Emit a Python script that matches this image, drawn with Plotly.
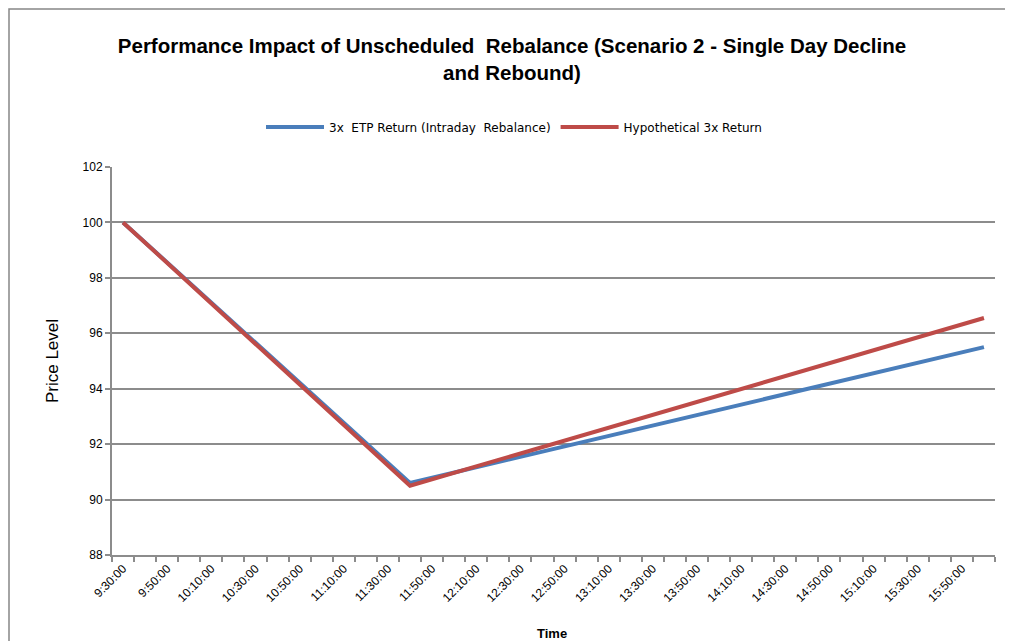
import plotly.graph_objects as go

# ---- data ----
day = "2024-01-02 "
etp_times = ["09:30:00", "11:40:00", "16:00:00"]
etp_values = [100.0, 90.6, 95.5]
hypo_times = ["09:30:00", "11:40:00", "16:00:00"]
hypo_values = [100.0, 90.5, 96.55]

tick_times = ["09:30:00", "09:50:00", "10:10:00", "10:30:00", "10:50:00", "11:10:00",
              "11:30:00", "11:50:00", "12:10:00", "12:30:00", "12:50:00", "13:10:00",
              "13:30:00", "13:50:00", "14:10:00", "14:30:00", "14:50:00", "15:10:00",
              "15:30:00", "15:50:00"]
tick_labels = ["9:30:00", "9:50:00", "10:10:00", "10:30:00", "10:50:00", "11:10:00",
               "11:30:00", "11:50:00", "12:10:00", "12:30:00", "12:50:00", "13:10:00",
               "13:30:00", "13:50:00", "14:10:00", "14:30:00", "14:50:00", "15:10:00",
               "15:30:00", "15:50:00"]
y_ticks = [88, 90, 92, 94, 96, 98, 100, 102]

series_names = ["3x  ETP Return (Intraday  Rebalance)", "Hypothetical 3x Return"]

FONT = "Liberation Sans"
GRID = "#8c8c8c"
W, H = 1005, 633   # page body adds an 8px offset

fig = go.Figure()
fig.add_trace(go.Scatter(
    x=[day + t for t in etp_times], y=etp_values, mode="lines",
    name=series_names[0], line=dict(color="#4a7ebb", width=4)))
fig.add_trace(go.Scatter(
    x=[day + t for t in hypo_times], y=hypo_values, mode="lines",
    name=series_names[1], line=dict(color="#be4b48", width=4)))

fig.update_layout(
    width=W, height=H,
    margin=dict(l=104, r=18, t=159, b=86, autoexpand=False),
    paper_bgcolor="white", plot_bgcolor="white",
    font=dict(family=FONT, color="#000000"),
    title=dict(
        text="<b>Performance Impact of Unscheduled  Rebalance (Scenario 2 - Single Day Decline<br>and Rebound)</b>",
        x=504 / W, xref="container", xanchor="center",
        y=1 - 45 / H, yref="container", yanchor="middle",
        font=dict(family=FONT, size=20.5, color="#000000")),
    showlegend=True,
    legend=dict(orientation="h", xref="container", x=506 / W, xanchor="center",
                yref="container", y=1 - 119 / H, yanchor="middle",
                font=dict(family="DejaVu Sans", size=12, color="#000000"),
                itemwidth=58, bgcolor="rgba(0,0,0,0)"),
    xaxis=dict(
        type="date", automargin=False,
        range=[day + "09:25:00", day + "16:05:00"],
        tickvals=[day + t for t in tick_times], ticktext=tick_labels,
        tickangle=-45, ticks="", showgrid=False,
        tickfont=dict(family=FONT, size=12, color="#000000"),
        showline=True, linecolor=GRID, linewidth=2,
        minor=dict(ticks="outside", ticklen=5, tickcolor=GRID, tickwidth=1.5,
                   tick0=day + "09:25:00", dtick=600000, showgrid=False),
        zeroline=False, fixedrange=True),
    yaxis=dict(
        range=[88, 102], tickvals=y_ticks, automargin=False,
        ticks="outside", ticklen=5, tickcolor=GRID, tickwidth=1.5,
        showgrid=True, gridcolor=GRID, gridwidth=1.5,
        showline=True, linecolor=GRID, linewidth=2,
        tickfont=dict(family=FONT, size=12, color="#000000"),
        title=dict(text="Price Level", font=dict(family=FONT, size=17, color="#000000"), standoff=20),
        zeroline=False),
    shapes=[dict(type="rect", xref="paper", yref="paper",
                 x0=(1 - 104) / 883, x1=1.2, y0=-0.5, y1=(547 - 1) / 388,
                 line=dict(color="#868686", width=1.5), layer="below")],
    annotations=[dict(text="<b>Time</b>", xref="paper", yref="paper",
                      x=(552 - 112) / 883, y=(555 - 624) / 388,
                      xanchor="center", yanchor="top", showarrow=False,
                      font=dict(family=FONT, size=13, color="#000000"))],
)

fig.write_html("out.html")
